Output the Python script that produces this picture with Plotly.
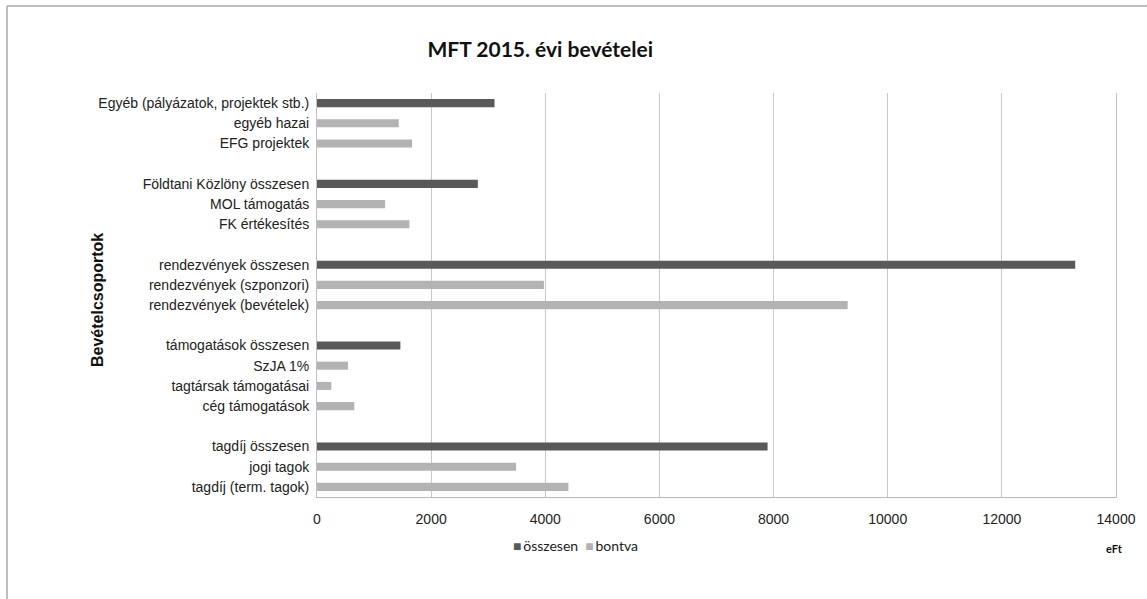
import plotly.graph_objects as go

categories = [
    "Egyéb (pályázatok, projektek stb.)", "egyéb hazai", "EFG projektek", " ",
    "Földtani Közlöny összesen", "MOL támogatás", "FK értékesítés", "  ",
    "rendezvények összesen", "rendezvények (szponzori)", "rendezvények (bevételek)", "   ",
    "támogatások összesen", "SzJA 1%", "tagtársak támogatásai", "cég támogatások", "    ",
    "tagdíj összesen", "jogi tagok", "tagdíj (term. tagok)",
]
osszesen = [3110, None, None, None,
            2818, None, None, None,
            13286, None, None, None,
            1461, None, None, None, None,
            7895, None, None]
bontva = [None, 1432, 1667, None,
          None, 1193, 1619, None,
          None, 3976, 9298, None,
          None, 544, 251, 654, None,
          None, 3488, 4405]
x_ticks = [0, 2000, 4000, 6000, 8000, 10000, 12000, 14000]
series_names = ["összesen", "bontva"]
series_colors = ["#595959", "#b3b3b3"]

FONT = "Liberation Sans, Arial, sans-serif"
FONT2 = "Lato, Liberation Sans, sans-serif"

fig = go.Figure()
fig.add_trace(go.Bar(y=categories, x=osszesen, orientation="h", name=series_names[0],
                     marker=dict(color=series_colors[0], line=dict(width=0)), width=0.4))
fig.add_trace(go.Bar(y=categories, x=bontva, orientation="h", name=series_names[1],
                     marker=dict(color=series_colors[1], line=dict(width=0)), width=0.4))

legend_text = "&nbsp;&nbsp;".join(
    f"<span style='color:{c}'>■</span>&#8201;{n}" for n, c in zip(series_names, series_colors)
)

fig.update_layout(
    width=1147, height=599,
    margin=dict(l=317, r=31, t=93, b=102),
    paper_bgcolor="white", plot_bgcolor="white",
    barmode="overlay",
    showlegend=False,
    title=dict(text="<b>MFT 2015. évi bevételei</b>", x=0.471, xanchor="center",
               y=0.917, yanchor="middle", yref="container",
               font=dict(family=FONT2, size=21, color="#111")),
    xaxis=dict(range=[0, 14000], tickvals=x_ticks, ticktext=[str(v) for v in x_ticks],
               showgrid=True, gridcolor="#c8c8c8", gridwidth=1,
               zeroline=False, showline=True, linecolor="#b8b8b8", linewidth=1,
               ticks="outside", ticklen=9, tickcolor="rgba(0,0,0,0)",
               tickfont=dict(family=FONT, size=14, color="#222")),
    yaxis=dict(type="category", autorange="reversed", showgrid=False, zeroline=False,
               showline=True, mirror=True, linecolor="#c0c0c0", linewidth=1,
               ticks="outside", ticklen=4, tickcolor="rgba(0,0,0,0)",
               tickfont=dict(family=FONT, size=14, color="#222")),
    annotations=[
        dict(text="<b>Bevételcsoportok</b>", textangle=-90, x=-0.2753, y=0.4876,
             xref="paper", yref="paper", showarrow=False, xanchor="center", yanchor="middle",
             font=dict(family=FONT, size=16, color="#111")),
        dict(text="<b>eFt</b>", x=0.9987, y=-0.1287, xref="paper", yref="paper",
             showarrow=False, xanchor="center", yanchor="middle",
             font=dict(family=FONT2, size=11, color="#111")),
        dict(text=legend_text, x=0.323, y=-0.119, xref="paper", yref="paper",
             showarrow=False, xanchor="center", yanchor="middle",
             font=dict(family=FONT2, size=14, color="#222")),
    ],
    shapes=[
        dict(type="line", xref="paper", yref="paper", x0=-0.388, x1=1.05, y0=1.2153, y1=1.2153,
             line=dict(color="#a8a8a8", width=1.5)),
        dict(type="line", xref="paper", yref="paper", x0=-0.388, x1=-0.388, y0=1.2153, y1=-0.27,
             line=dict(color="#a8a8a8", width=1.5)),
    ],
)

fig.write_html("out.html", config={"displayModeBar": False},
               post_script="document.body.style.margin='0';")
